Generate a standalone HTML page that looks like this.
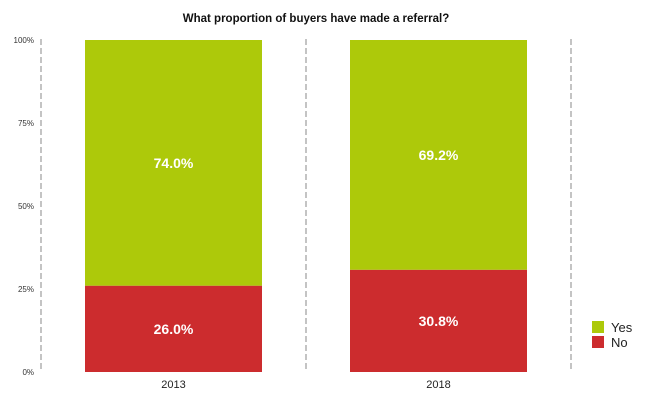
<!DOCTYPE html>
<html><head><meta charset="utf-8"><style>
body{margin:0;background:#fff;width:668px;height:405px;overflow:hidden;font-family:"Liberation Sans",sans-serif}
</style></head><body>
<svg width="668" height="405">
<text x="316" y="22" text-anchor="middle" font-size="11.5" font-weight="bold" fill="#111">What proportion of buyers have made a referral?</text>
<g id="axis"></g>
<g id="bars"></g>
<g>
<rect x="592" y="321" width="12" height="12" fill="#adc90a"/>
<text x="611" y="332" font-size="13" fill="#222">Yes</text>
<rect x="592" y="336" width="12" height="12" fill="#cc2c2e"/>
<text x="611" y="347" font-size="13" fill="#222">No</text>
</g>
</svg>
<script>
const categories=["2013","2018"];
const noValues=[26.0,30.8];
const yesValues=[74.0,69.2];
const tickValues=[0,25,50,75,100];
const NS="http://www.w3.org/2000/svg";
const y0=372,y1=40;
const y=v=>y0-(y0-y1)*v/100;
const bandX=i=>85+i*265;
const bw=177;
function mk(tag,attrs,parent){const e=document.createElementNS(NS,tag);for(const k in attrs)e.setAttribute(k,attrs[k]);parent.appendChild(e);return e;}
const ax=document.getElementById('axis'),bars=document.getElementById('bars');
[41,306,571].forEach((x,i)=>{
const l=mk('line',{x1:x,x2:x,y1:39,y2:y0,stroke:'#888','stroke-width':1,'stroke-dasharray':'6,3'},ax);


});
tickValues.forEach(v=>{
const t=mk('text',{x:34,y:y(v)+3,'text-anchor':'end','font-size':'8',fill:'#333'},ax);
t.textContent=v+'%';


});
categories.forEach((c,i)=>{
const x=bandX(i);
const rn=mk('rect',{x:x,y:y(noValues[i]),width:bw,height:y0-y(noValues[i]),fill:'#cc2c2e'},bars);


const ry=mk('rect',{x:x,y:y(noValues[i]+yesValues[i]),width:bw,height:y(noValues[i])-y(noValues[i]+yesValues[i]),fill:'#adc90a'},bars);


const tn=mk('text',{x:x+bw/2,y:(y(noValues[i])+y0)/2+5,'text-anchor':'middle','font-size':'14','font-weight':'bold',fill:'#fff'},bars);
tn.textContent=noValues[i].toFixed(1)+'%';


const ty=mk('text',{x:x+bw/2,y:(y(noValues[i])+y(noValues[i]+yesValues[i]))/2+5,'text-anchor':'middle','font-size':'14','font-weight':'bold',fill:'#fff'},bars);
ty.textContent=yesValues[i].toFixed(1)+'%';


const tl=mk('text',{x:x+bw/2,y:388,'text-anchor':'middle','font-size':'11',fill:'#222'},bars);
tl.textContent=c;


});
</script>
</body></html>
